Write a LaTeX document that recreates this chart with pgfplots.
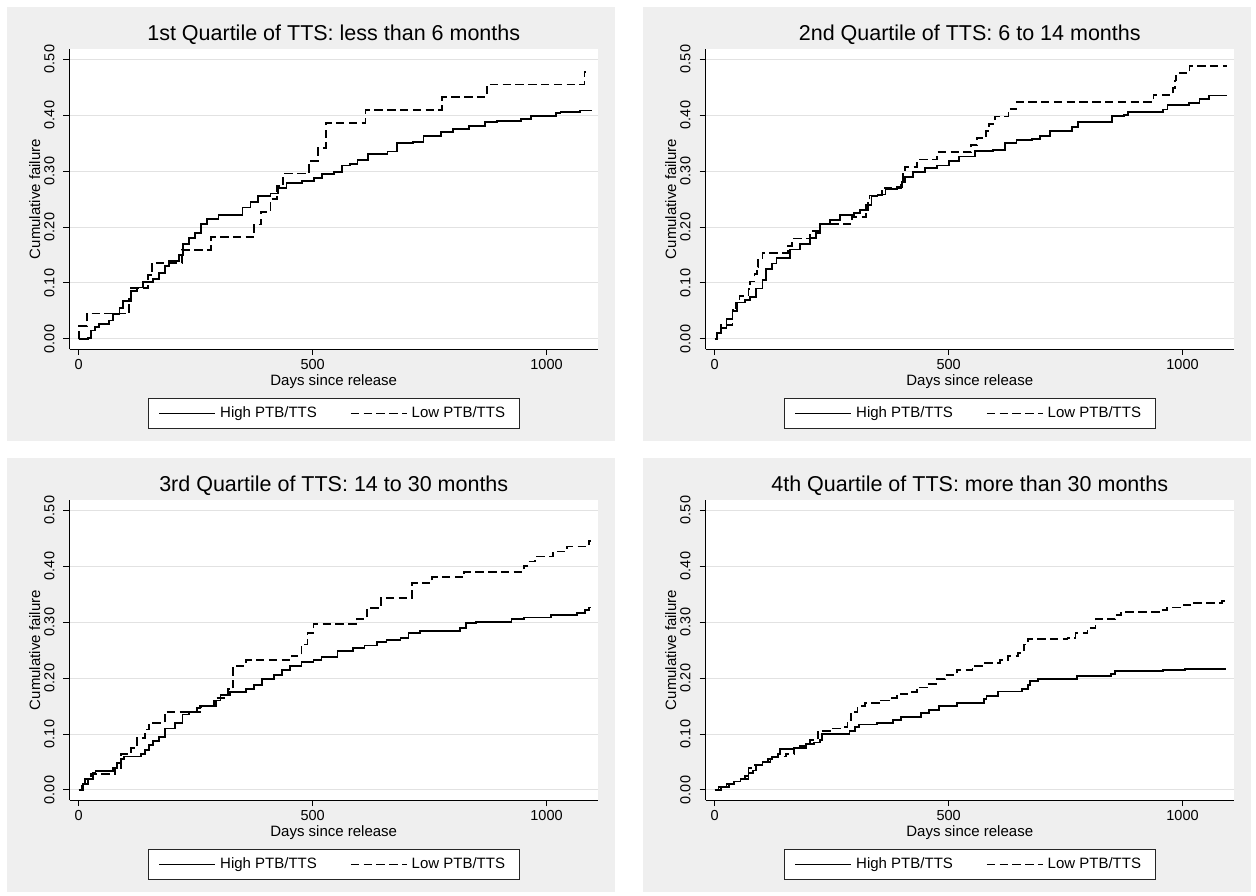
\documentclass[border=0pt]{standalone}
\usepackage{fontspec}
\setmainfont{Liberation Sans}
\usepackage{graphicx}
\usepackage{pgfplots}
\pgfplotsset{compat=1.18}
\definecolor{panelgray}{RGB}{239,239,239}
\definecolor{gridgray}{RGB}{226,226,226}
\pgfplotsset{
  kmpanel/.style={
    scale only axis, width=264.25pt, height=150pt, anchor=south west,
    xmin=-19.7, xmax=1110, ymin=-0.0179, ymax=0.5179,
    axis x line=bottom, axis y line=left,
    axis line style={-, line width=0.5pt, black},
    xtick={0,500,1000}, ytick={0,0.1,0.2,0.3,0.4,0.5},
    xtick pos=bottom, ytick pos=left,
    tick align=outside, major tick length=3pt,
    tick style={line width=0.5pt, black},
    scaled x ticks=false, scaled y ticks=false,
    /pgf/number format/assume math mode=true,
    /pgf/number format/1000 sep={},
    yticklabel={\rotatebox{90}{\pgfmathprintnumber[fixed,fixed zerofill,precision=2]{\tick}}},
    ticklabel style={font=\fontsize{7.25}{8.7}\selectfont, inner sep=0.5pt},
    xticklabel style={anchor=base, yshift=-7pt},
    yticklabel style={anchor=east, xshift=-3.75pt},
    ymajorgrids, major grid style={line width=0.5pt, gridgray},
    axis background/.style={fill=white},
    xlabel={Days since release}, ylabel={Cumulative failure},
    label style={font=\fontsize{7.5}{9}\selectfont, inner sep=0.5pt},
    xlabel style={at={(axis description cs:0.5,0)}, anchor=base, yshift=-18.25pt},
    ylabel style={at={(axis description cs:-0.0558,0.5)}, anchor=base},
    title style={at={(axis description cs:0.5,1)}, anchor=base, yshift=-1.75pt, font=\fontsize{10.75}{12.9}\selectfont},
    legend columns=2,
    legend style={at={(axis description cs:0.5,-0.1633)}, anchor=north, draw=black!85, line width=0.5pt, fill=white,
      font=\fontsize{7.5}{9}\selectfont, inner xsep=5pt, inner ysep=2pt,
      /tikz/every even column/.append style={column sep=14.5pt}},
    legend image code/.code={\draw[#1] (0pt,0pt) -- (28pt,0pt);},
  },
  hi/.style={const plot, black, line width=0.9pt, line join=miter},
  lo/.style={const plot, black, line width=0.9pt, dash pattern=on 4.2pt off 2.2pt},
}
\begin{document}
\begin{tikzpicture}
\fill[white] (0,0) rectangle (628pt,-447.5pt);
\useasboundingbox (0,0) rectangle (628pt,-447.5pt);
\fill[panelgray] (3.5pt,-3.5pt) rectangle (307.5pt,-220.5pt);
\fill[panelgray] (321.5pt,-3.5pt) rectangle (625.5pt,-220.5pt);
\fill[panelgray] (3.5pt,-229pt) rectangle (307.5pt,-446pt);
\fill[panelgray] (321.5pt,-229pt) rectangle (625.5pt,-446pt);

% Panel 1
\begin{axis}[kmpanel, at={(34.75pt,-174.5pt)}, title={1st Quartile of TTS: less than 6 months}]
\addplot[hi] coordinates {(0,0) (20,0.002) (27,0.015) (35,0.022) (44,0.027) (65,0.033) (74,0.045) (87,0.055) (95,0.068) (108,0.072) (112,0.085) (125,0.092) (138,0.102) (159,0.107) (172,0.118) (184,0.13) (193,0.14) (214,0.15) (223,0.17) (235,0.18) (248,0.19) (261,0.205) (274,0.215) (299,0.222) (350,0.235) (367,0.245) (384,0.255) (410,0.26) (426,0.27) (444,0.278) (477,0.282) (503,0.288) (520,0.295) (545,0.298) (562,0.31) (580,0.312) (596,0.32) (618,0.33) (660,0.335) (681,0.35) (715,0.352) (737,0.362) (775,0.37) (800,0.375) (834,0.38) (868,0.387) (894,0.39) (945,0.393) (966,0.398) (1021,0.403) (1030,0.405) (1072,0.408) (1098,0.408)};
\addlegendentry{High PTB/TTS}
\addplot[lo] coordinates {(0,0) (1,0.0227) (17,0.0455) (108,0.0682) (112,0.0909) (148,0.1136) (157,0.1364) (220,0.1591) (282,0.1818) (375,0.2045) (390,0.2273) (410,0.25) (424,0.2727) (437,0.2955) (493,0.3182) (511,0.3409) (528,0.3864) (613,0.4091) (777,0.4318) (872,0.4545) (1081,0.4773) (1085,0.4773)};
\addlegendentry{Low PTB/TTS}
\end{axis}

% Panel 2
\begin{axis}[kmpanel, at={(352.75pt,-174.5pt)}, title={2nd Quartile of TTS: 6 to 14 months}]
\addplot[hi] coordinates {(0,0) (4,0.01) (13,0.02) (25,0.035) (38,0.05) (47,0.065) (64,0.07) (76,0.075) (89,0.09) (102,0.105) (110,0.125) (123,0.135) (132,0.145) (161,0.16) (182,0.17) (204,0.18) (216,0.19) (225,0.205) (246,0.213) (267,0.222) (297,0.225) (310,0.23) (323,0.24) (335,0.255) (348,0.258) (365,0.268) (390,0.272) (400,0.28) (407,0.29) (424,0.298) (450,0.305) (475,0.31) (501,0.318) (522,0.326) (556,0.336) (594,0.338) (620,0.35) (645,0.355) (679,0.357) (696,0.363) (717,0.372) (764,0.378) (777,0.388) (849,0.398) (874,0.4) (883,0.406) (959,0.41) (968,0.418) (1014,0.422) (1036,0.428) (1057,0.435) (1095,0.435)};
\addlegendentry{High PTB/TTS}
\addplot[lo] coordinates {(0,0) (4,0.0128) (14,0.0256) (38,0.0513) (45,0.0641) (53,0.0769) (72,0.0897) (76,0.1026) (85,0.1154) (90,0.1282) (93,0.141) (102,0.1538) (157,0.1667) (166,0.1795) (204,0.1923) (225,0.2051) (293,0.2179) (323,0.2308) (328,0.2436) (331,0.2564) (357,0.2692) (399,0.2821) (403,0.2949) (407,0.3077) (433,0.3205) (475,0.3333) (548,0.3462) (560,0.359) (580,0.3718) (586,0.3846) (599,0.3974) (628,0.4103) (645,0.4231) (938,0.4359) (980,0.4487) (983,0.4615) (986,0.4744) (1015,0.4872) (1095,0.4872)};
\addlegendentry{Low PTB/TTS}
\end{axis}

% Panel 3
\begin{axis}[kmpanel, at={(34.75pt,-400pt)}, title={3rd Quartile of TTS: 14 to 30 months}]
\addplot[hi] coordinates {(0,0) (10,0.01) (19,0.02) (31,0.03) (36,0.034) (74,0.04) (82,0.048) (91,0.055) (97,0.06) (133,0.065) (142,0.072) (150,0.08) (158,0.087) (171,0.095) (184,0.11) (205,0.12) (222,0.135) (235,0.14) (252,0.147) (260,0.15) (294,0.16) (303,0.17) (324,0.175) (358,0.18) (375,0.188) (392,0.198) (417,0.205) (434,0.215) (451,0.222) (476,0.228) (502,0.232) (519,0.238) (553,0.248) (586,0.253) (611,0.258) (637,0.264) (658,0.268) (688,0.272) (705,0.28) (730,0.284) (815,0.29) (828,0.298) (849,0.3) (925,0.305) (951,0.308) (1010,0.312) (1065,0.316) (1082,0.322) (1091,0.326) (1095,0.326)};
\addlegendentry{High PTB/TTS}
\addplot[lo] coordinates {(0,0) (6,0.008) (14,0.02) (27,0.028) (78,0.04) (91,0.065) (112,0.075) (125,0.093) (142,0.108) (150,0.12) (184,0.14) (262,0.15) (290,0.165) (319,0.18) (330,0.222) (358,0.232) (455,0.24) (476,0.26) (489,0.28) (502,0.296) (595,0.305) (616,0.325) (646,0.343) (713,0.37) (756,0.38) (824,0.389) (951,0.4) (959,0.408) (976,0.417) (1014,0.426) (1044,0.435) (1091,0.445) (1095,0.445)};
\addlegendentry{Low PTB/TTS}
\end{axis}

% Panel 4
\begin{axis}[kmpanel, at={(352.75pt,-400pt)}, title={4th Quartile of TTS: more than 30 months}]
\addplot[hi] coordinates {(0,0) (13,0.005) (30,0.01) (42,0.015) (55,0.02) (64,0.025) (72,0.03) (81,0.035) (89,0.045) (102,0.05) (114,0.055) (123,0.06) (136,0.065) (140,0.073) (169,0.075) (182,0.078) (195,0.082) (212,0.085) (225,0.09) (229,0.1) (288,0.105) (300,0.112) (309,0.117) (347,0.12) (381,0.125) (398,0.13) (441,0.138) (458,0.143) (479,0.15) (517,0.155) (576,0.162) (581,0.168) (606,0.176) (657,0.18) (669,0.188) (674,0.195) (691,0.198) (775,0.203) (847,0.207) (856,0.212) (958,0.215) (1006,0.216) (1093,0.216)};
\addlegendentry{High PTB/TTS}
\addplot[lo] coordinates {(0,0) (8,0.005) (25,0.01) (42,0.015) (55,0.02) (72,0.04) (85,0.045) (102,0.05) (119,0.058) (136,0.06) (153,0.065) (169,0.075) (195,0.08) (203,0.09) (220,0.106) (246,0.11) (271,0.112) (284,0.125) (292,0.14) (305,0.15) (322,0.155) (356,0.16) (373,0.165) (390,0.172) (415,0.175) (432,0.183) (458,0.19) (475,0.198) (492,0.205) (517,0.215) (551,0.222) (576,0.227) (610,0.232) (627,0.24) (648,0.245) (661,0.26) (669,0.27) (754,0.272) (771,0.28) (797,0.29) (814,0.305) (856,0.312) (869,0.318) (949,0.322) (966,0.326) (1002,0.33) (1025,0.334) (1085,0.338) (1093,0.338)};
\addlegendentry{Low PTB/TTS}
\end{axis}
\end{tikzpicture}
\end{document}
